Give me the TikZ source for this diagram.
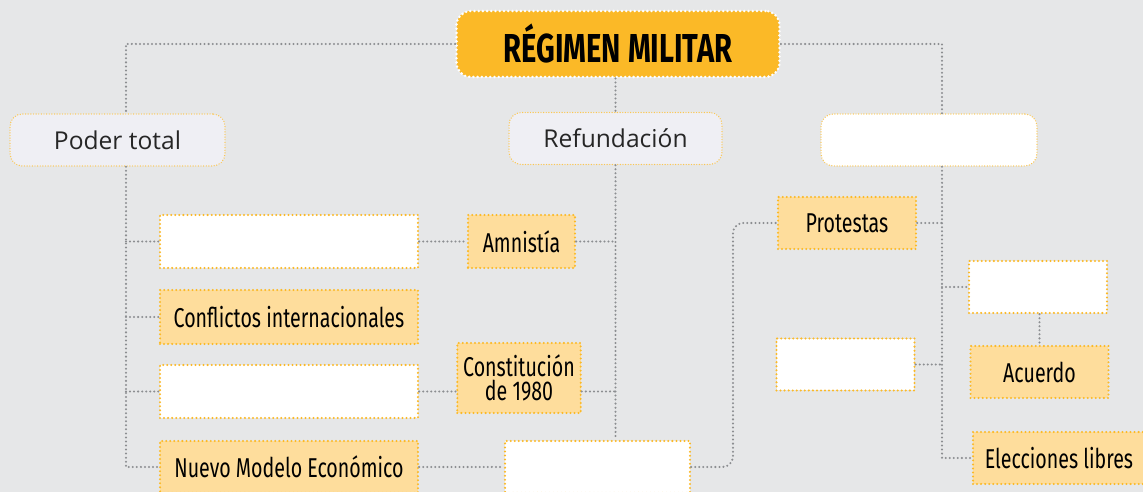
\documentclass[tikz,border=0pt]{standalone}
\usepackage{fontspec}
\usepackage{tikz}
\usetikzlibrary{positioning}
\setmainfont{Open Sans}
\newfontfamily\condfont[FakeStretch=0.72]{Fira Sans}
\definecolor{fondo}{HTML}{E6E7E8}
\definecolor{naranja}{HTML}{FBB927}
\definecolor{naranjaclaro}{HTML}{FEDD9C}
\definecolor{lavanda}{HTML}{EFEFF4}
\definecolor{gris}{HTML}{8C8E91}

\begin{document}
\begin{tikzpicture}[x=0.02cm, y=-0.02cm,
    titulo/.style={rectangle, rounded corners=8pt, fill=naranja, draw=white, line width=1.6pt,
                   dash pattern=on 0pt off 2.4pt, line cap=round, minimum width=6.46cm, minimum height=1.32cm,
                   font=\condfont\bfseries\fontsize{23}{25}\selectfont},
    eje/.style={rectangle, rounded corners=7pt, fill=lavanda, draw=naranja!80, line width=0.8pt,
                dash pattern=on 0pt off 1.5pt, line cap=round, minimum width=4.3cm, minimum height=1.04cm,
                font=\fontsize{14}{16}\selectfont\color{black!85}},
    concepto/.style={rectangle, fill=naranjaclaro, draw=naranja, line width=1.3pt,
                     dash pattern=on 0pt off 2.3pt, line cap=round, minimum height=1.06cm,
                     align=center, font=\condfont\fontsize{15.5}{17}\selectfont},
    vacio/.style={concepto, fill=white},
    enlace/.style={draw=gris, line width=1.3pt, dash pattern=on 0pt off 2.3pt, line cap=round}
]
\useasboundingbox (0,0) rectangle (1143,492);
\fill[fondo] (0,0) rectangle (1143,492);
\coordinate (ejeI) at (126,0);
\coordinate (ejeD) at (942,0);
\coordinate (giro) at (733,0);

% titulo y ejes
\node (reg) [titulo] at (618,44) {RÉGIMEN MILITAR};
\node (poder) [eje] at (117.5,140) {Poder total};
\node (refu) [eje, minimum width=4.26cm] at (615.5,138.5) {Refundación};
\node (ej3) [eje, fill=white, minimum width=4.32cm] at (929,140) {};

% columna izquierda
\node (v1) [vacio, minimum width=5.16cm] at (289,241.5) {};
\node (amn) [concepto, minimum width=2.14cm] at (521.5,241.5) {Amnistía};
\node (conf) [concepto, minimum width=5.16cm, minimum height=1.08cm] at (289,317) {Conflictos internacionales};
\node (v2) [vacio, minimum width=5.16cm] at (289,391.5) {};
\node (cons) [concepto, minimum width=2.44cm, minimum height=1.4cm] at (519,378) {Constitución\\[-3pt]de 1980};
\node (nme) [concepto, minimum width=5.16cm, minimum height=1.04cm] at (289,467) {Nuevo Modelo Económico};
\node (v3) [vacio, minimum width=3.7cm, minimum height=1.04cm] at (597.5,467) {};

% columna derecha
\node (prot) [concepto, minimum width=2.76cm, minimum height=1.04cm] at (847,223) {Protestas};
\node (v4) [vacio, minimum width=2.76cm, minimum height=1.04cm] at (1038,287) {};
\node (acu) [concepto, minimum width=2.76cm, minimum height=1.04cm] at (1039.5,372) {Acuerdo};
\node (v5) [vacio, minimum width=2.76cm, minimum height=1.04cm] at (845.5,364.5) {};
\node (elec) [concepto, minimum width=3.44cm, minimum height=1.04cm] at (1059,458) {Elecciones libres};

% conexiones
\draw [enlace] (reg.west) -| (poder.north -| ejeI);
\draw [enlace] (reg.east) -| (ej3.north -| ejeD);
\draw [enlace] (reg.south -| refu.north) -- (refu.north);
\draw [enlace] (poder.south -| ejeI) |- (nme.west);
\draw [enlace] (ejeI |- v1.west) -- (v1.west);
\draw [enlace] (ejeI |- conf.west) -- (conf.west);
\draw [enlace] (ejeI |- v2.west) -- (v2.west);
\draw [enlace] (v1.east) -- (amn.west);
\draw [enlace] (amn.east) -- (amn.east -| refu.south);
\draw [enlace] (v2.east) -- (cons.west |- v2.east);
\draw [enlace] (cons.east |- v2.east) -- (refu.south |- v2.east);
\draw [enlace] (refu.south) -- (refu.south |- v3.north);
\draw [enlace] (nme.east) -- (v3.west);
\draw [enlace, rounded corners=6pt] (v3.east) -| (giro |- prot.west) -- (prot.west);
\draw [enlace] (ej3.south -| ejeD) |- (elec.west);
\draw [enlace] (prot.east) -- (prot.east -| ejeD);
\draw [enlace] (ejeD |- v4.west) -- (v4.west);
\draw [enlace] (v5.east) -- (v5.east -| ejeD);
\draw [enlace] (v4.south -| acu.north) -- (acu.north);
\end{tikzpicture}
\end{document}
